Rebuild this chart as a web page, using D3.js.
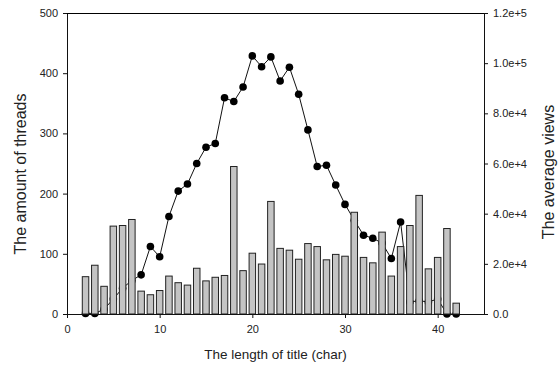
<!DOCTYPE html>
<html>
<head>
<meta charset="utf-8">
<script src="https://cdn.jsdelivr.net/npm/d3@7"></script>
<style>
  body { margin: 0; background: #fff; }
  text { font-family: "Liberation Sans", Arial, sans-serif; fill: #222; }
</style>
</head>
<body>
<svg id="chart"></svg>
<script>
// Data
const titleLength = [2, 3, 4, 5, 6, 7, 8, 9, 10, 11, 12, 13, 14, 15, 16, 17, 18, 19, 20, 21,
  22, 23, 24, 25, 26, 27, 28, 29, 30, 31, 32, 33, 34, 35, 36, 37, 38, 39, 40, 41, 42];
const threadCounts = [62, 81, 46, 146, 147, 157, 38, 32, 39, 63, 52, 48, 76, 55, 61, 64, 245, 72, 101, 83,
  187, 109, 106, 91, 117, 112, 90, 99, 96, 169, 94, 85, 136, 63, 112, 147, 197, 75, 94, 142, 18];
const averageViews = [240, 240, 1900, 6000, 10300, 13400, 15600, 26900, 22800, 38900, 49000, 51800, 60000, 66500, 68000, 86200, 84700, 90500, 102900, 98600,
  102500, 92900, 98400, 87600, 73400, 58800, 59300, 51400, 43700, 37400, 31400, 30200, 28300, 22100, 36700, 4800, 5300, 4800, 6000, 0, 0];
const xTicks = [0, 10, 20, 30, 40];
const leftTicks = [0, 100, 200, 300, 400, 500];
const rightTicks = [0, 20000, 40000, 60000, 80000, 100000, 120000];

const width = 559;
const height = 370;
const margin = { top: 13, right: 75, bottom: 56, left: 67 };

const svg = d3.select("#chart")
  .attr("width", width)
  .attr("height", height);

const x = d3.scaleLinear()
  .domain([0, 45])
  .range([margin.left, width - margin.right]);

const yLeft = d3.scaleLinear()
  .domain([0, 500])
  .range([height - margin.bottom, margin.top]);

const yRight = d3.scaleLinear()
  .domain([0, 120000])
  .range([height - margin.bottom, margin.top]);

const rows = titleLength.map((len, i) => ({ len, threads: threadCounts[i], views: averageViews[i] }));

// line and dots sit behind the bars
const line = d3.line()
  .x(d => x(d.len))
  .y(d => yRight(d.views));

svg.append("path")
  .datum(rows)
  .attr("d", line)
  .attr("fill", "none")
  .attr("stroke", "#111")
  .attr("stroke-width", 1);

svg.selectAll(".dot")
  .data(rows)
  .enter().append("circle")
  .attr("class", "dot")
  .attr("cx", d => x(d.len))
  .attr("cy", d => yRight(d.views))
  .attr("r", 3.8)
  .attr("fill", "#000");

const barW = x(0.7) - x(0);

svg.selectAll(".bar")
  .data(rows)
  .enter().append("rect")
  .attr("class", "bar")
  .attr("x", d => x(d.len) - barW / 2)
  .attr("y", d => yLeft(d.threads))
  .attr("width", barW)
  .attr("height", d => yLeft(0) - yLeft(d.threads))
  .attr("fill", "#c4c4c4")
  .attr("stroke", "#222")
  .attr("stroke-width", 1);

// axes
const fmtRight = d => d === 0 ? "0.0" : d3.format(".1e")(d);

svg.append("g")
  .attr("transform", `translate(0,${yLeft(0)})`)
  .call(d3.axisBottom(x).tickValues(xTicks).tickSize(4).tickPadding(7).tickSizeOuter(0))
  .call(g => g.select(".domain").attr("d", `M${x(0) - 4},0.5H${x(45) + 4}`));

svg.append("g")
  .attr("transform", `translate(${margin.left},0)`)
  .call(d3.axisLeft(yLeft).tickValues(leftTicks).tickSize(4).tickPadding(5).tickSizeOuter(0));

svg.append("g")
  .attr("transform", `translate(${width - margin.right},0)`)
  .call(d3.axisRight(yRight).tickValues(rightTicks).tickSize(4).tickPadding(5).tickSizeOuter(0)
    .tickFormat(fmtRight));

svg.append("line")
  .attr("x1", margin.left)
  .attr("x2", width - margin.right)
  .attr("y1", margin.top + 0.5)
  .attr("y2", margin.top + 0.5)
  .attr("stroke", "#000");

svg.selectAll(".tick text")
  .style("font-size", "11px")
  .style("font-family", "'Liberation Sans', Arial, sans-serif")
  .attr("fill", "#222");

svg.selectAll(".domain, .tick line").attr("stroke", "#111");

// titles
svg.append("text")
  .attr("x", (x(0) + x(45)) / 2)
  .attr("y", 359)
  .attr("text-anchor", "middle")
  .style("font-size", "13.5px")
  .text("The length of title (char)");

svg.append("text")
  .attr("transform", "translate(26,174) rotate(-90)")
  .attr("text-anchor", "middle")
  .style("font-size", "16px")
  .text("The amount of threads");

svg.append("text")
  .attr("transform", "translate(554,172) rotate(-90)")
  .attr("text-anchor", "middle")
  .style("font-size", "16px")
  .text("The average views");
</script>
</body>
</html>
